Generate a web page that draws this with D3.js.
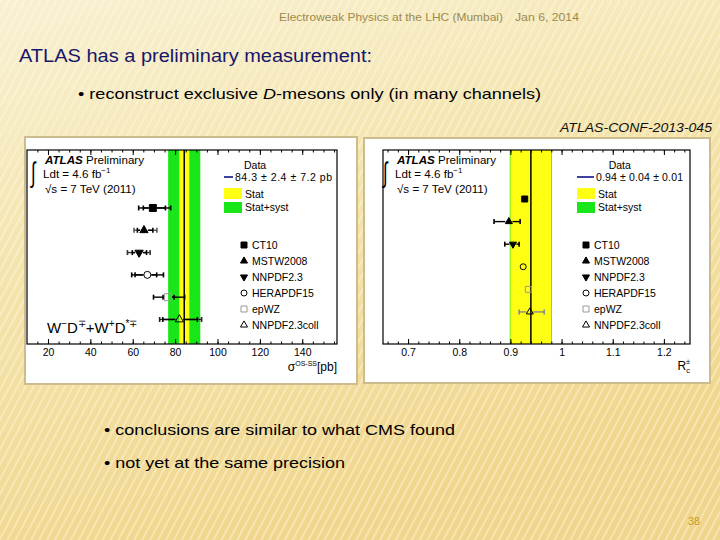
<!DOCTYPE html>
<html><head><meta charset="utf-8">
<script src="https://cdn.jsdelivr.net/npm/d3@7"></script>
<style>
body{margin:0;background:#f4e6b4;}
svg{display:block;font-family:"Liberation Sans",Arial,Helvetica,sans-serif;}
</style>
</head><body>
<svg id="c" width="720" height="540"></svg>
<script>
// ---------------- data ----------------
const pdfSets = ["CT10","MSTW2008","NNPDF2.3","HERAPDF15","epWZ","NNPDF2.3coll"];
const markerTypes = ["squareFilled","triangleFilled","triangleDownFilled","circleOpen","squareOpen","triangleOpen"];
const rowIndex = [6,5,4,3,2,1];

// left panel: sigma(OS-SS) [pb]
const sigmaMeasured = [84.3, 2.4, 7.2];          // value, stat, syst
const sigmaCentral  = [69.5, 65.3, 63.0, 66.9, 76.6, 82.0];
const sigmaInnerLo  = [65.0, 62.2, 59.8, 61.1, 74.3, 74.2];
const sigmaInnerHi  = [75.4, 69.5, 66.5, 71.3, 79.5, 90.5];
const sigmaOuterLo  = [62.8, 60.6, 57.5, 59.5, 69.8, 72.7];
const sigmaOuterHi  = [77.9, 71.4, 68.2, 74.5, 84.5, 92.5];
const sigmaTicks    = [20, 40, 60, 80, 100, 120, 140];
const sigmaMinor    = d3.range(15, 156, 5);

// right panel: Rc+-
const rcMeasured = [0.94, 0.04, 0.01];
const rcCentral  = [0.928, 0.897, 0.905, 0.925, 0.935, 0.938];
const rcErrLo    = [0.928, 0.868, 0.889, 0.925, 0.935, 0.917];
const rcErrHi    = [0.928, 0.919, 0.917, 0.925, 0.935, 0.966];
const rcTicks    = [0.7, 0.8, 0.9, 1.0, 1.1, 1.2];
const rcMinor    = d3.range(0.66, 1.25, 0.02);

const headerText = ["Electroweak Physics at the LHC (Mumbai)", "Jan 6, 2014"];
const titleText  = "ATLAS has a preliminary measurement:";
const bulletTop  = ["reconstruct exclusive ", "D", "-mesons only (in many channels)"];
const confText   = "ATLAS-CONF-2013-045";
const bulletsBottom = ["conclusions are similar to what CMS found", "not yet at the same precision"];
const pageNumber = "38";

// ---------------- drawing ----------------
const svg = d3.select("#c");
const defs = svg.append("defs");
const bg = defs.append("linearGradient").attr("id","bg").attr("x1","0").attr("y1","0").attr("x2","0.35").attr("y2","1");
bg.append("stop").attr("offset","0").attr("stop-color","#f8f0d2");
bg.append("stop").attr("offset","0.45").attr("stop-color","#f4e4ad");
bg.append("stop").attr("offset","1").attr("stop-color","#f0d68c");
const pat = defs.append("pattern").attr("id","stripes").attr("width",7).attr("height",7)
  .attr("patternUnits","userSpaceOnUse").attr("patternTransform","rotate(28)");
pat.append("rect").attr("width",2).attr("height",7).attr("fill","#fffbe8").attr("opacity",0.4);

svg.append("rect").attr("width",720).attr("height",540).attr("fill","url(#bg)");
svg.append("rect").attr("width",720).attr("height",540).attr("fill","url(#stripes)");

function slideText(x, y, str, size, width, opts={}) {
  const t = svg.append("text").attr("x",x).attr("y",y).attr("font-size",size)
    .attr("fill",opts.fill||"#000").attr("text-anchor",opts.anchor||"start");
  if (opts.italic) t.attr("font-style","italic");
  if (Array.isArray(str)) {
    str.forEach((s,i)=>{ const ts=t.append("tspan").text(s); if(opts.italicIdx===i) ts.attr("font-style","italic"); });
  } else t.text(str);
  if (width) t.attr("textLength",width).attr("lengthAdjust","spacingAndGlyphs");
  return t;
}

slideText(279, 21, headerText[0], 11, 224, {fill:"#9c8a4e"});
slideText(515, 21, headerText[1], 11, 64, {fill:"#9c8a4e"});
slideText(19, 62, titleText, 17.5, 353, {fill:"#16166a"});
slideText(78, 99, ["• "].concat(bulletTop), 15, 463, {italicIdx:2});
slideText(712, 132, confText, 12, 152, {anchor:"end", italic:true, fill:"#111"});
slideText(104, 435, "• " + bulletsBottom[0], 15, 351);
slideText(104, 468, "• " + bulletsBottom[1], 15, 241);
slideText(688, 525, pageNumber, 11, 12, {fill:"#c49a2a"});

// ---------- generic panel ----------
function marker(g, type, x, y, s) {
  let sym, rot = 0, filled = type.endsWith("Filled");
  if (type.startsWith("square")) sym = d3.symbolSquare;
  else if (type.startsWith("circle")) sym = d3.symbolCircle;
  else sym = d3.symbolTriangle;
  if (type.startsWith("triangleDown")) rot = 180;
  const area = type.startsWith("square") ? s*s : type.startsWith("circle") ? Math.PI*(s/2)*(s/2) : s*s*0.6;
  g.append("path").attr("d", d3.symbol().type(sym).size(area)())
    .attr("transform",`translate(${x},${y}) rotate(${rot})`)
    .attr("fill", filled ? "#000" : "none")
    .attr("stroke", type==="squareOpen" ? "#999" : "#000").attr("stroke-width",1);
}

function drawPanel(cfg) {
  const g = svg.append("g");
  g.append("rect").attr("x",cfg.box[0]).attr("y",cfg.box[1]).attr("width",cfg.box[2]).attr("height",cfg.box[3])
    .attr("fill","#fff").attr("stroke","#cdbd8c").attr("stroke-width",2);
  const x = d3.scaleLinear().domain(cfg.xDomain).range(cfg.xRange);
  const y = d3.scaleLinear().domain(cfg.yDomain).range([344,150]);
  const [v, st, sy] = cfg.measured;
  const tot = Math.sqrt(st*st + sy*sy);
  g.append("rect").attr("x",x(v-tot)).attr("y",150).attr("width",x(v+tot)-x(v-tot)).attr("height",194).attr("fill","#19e619");
  g.append("rect").attr("x",x(v-st)).attr("y",150).attr("width",x(v+st)-x(v-st)).attr("height",194).attr("fill","#ffff14");
  g.append("line").attr("x1",x(v)).attr("x2",x(v)).attr("y1",150).attr("y2",344).attr("stroke","#000").attr("stroke-width",1.5);

  const fmt = cfg.fmt;
  const bottomMinor = d3.axisBottom(x).tickValues(cfg.minor).tickSizeInner(-2.5).tickSizeOuter(0).tickFormat("");
  const bottomMajor = d3.axisBottom(x).tickValues(cfg.ticks).tickSizeInner(-5).tickSizeOuter(0).tickPadding(5).tickFormat(fmt);
  const topMinor = d3.axisTop(x).tickValues(cfg.minor).tickSizeInner(-2.5).tickSizeOuter(0).tickFormat("");
  const topMajor = d3.axisTop(x).tickValues(cfg.ticks).tickSizeInner(-5).tickSizeOuter(0).tickFormat("");
  [bottomMinor,bottomMajor].forEach(a=>{
    const ag = g.append("g").attr("transform","translate(0,344)").call(a);
    ag.select(".domain").remove();
    ag.selectAll("text").attr("font-size",10.5).attr("fill","#000").attr("font-family","Liberation Sans, Arial, sans-serif");
  });
  [topMinor,topMajor].forEach(a=>{
    const ag = g.append("g").attr("transform","translate(0,150)").call(a);
    ag.select(".domain").remove();
  });
  g.selectAll(".tick line").attr("stroke","#000");
  g.append("rect").attr("x",cfg.xRange[0]).attr("y",150).attr("width",cfg.xRange[1]-cfg.xRange[0]).attr("height",194)
    .attr("fill","none").attr("stroke","#000").attr("stroke-width",1.2);

  const ms = cfg.markerSize;
  pdfSets.forEach((name,i)=>{
    const cy = y(rowIndex[i]), cx = x(cfg.central[i]);
    const r = ms/2 + 0.5;
    cfg.bars.forEach(b=>{
      const lo = x(b.lo[i]), hi = x(b.hi[i]);
      if (hi - lo < 1) return;
      const col = b.color ? b.color[i] : "#000";
      if (cx - r > lo) g.append("line").attr("x1",lo).attr("x2",cx-r).attr("y1",cy).attr("y2",cy).attr("stroke",col).attr("stroke-width",1.4);
      if (hi > cx + r) g.append("line").attr("x1",cx+r).attr("x2",hi).attr("y1",cy).attr("y2",cy).attr("stroke",col).attr("stroke-width",1.4);
      if (b.caps) [lo,hi].forEach(px=> g.append("line").attr("x1",px).attr("x2",px).attr("y1",cy-2.5).attr("y2",cy+2.5).attr("stroke",col).attr("stroke-width",1.6));
    });
    marker(g, markerTypes[i], cx, cy, ms);
  });

  const L = cfg.label;
  g.append("text").attr("x",L[0]).attr("y",L[1]+24).attr("font-size",28).attr("font-family","DejaVu Sans, sans-serif")
    .attr("font-weight",200).text("∫").attr("transform",`translate(${L[0]},0) scale(0.6,1) translate(${-L[0]},0)`);
  const t1 = g.append("text").attr("x",L[0]+14).attr("y",L[1]+6).attr("font-size",11.6);
  t1.append("tspan").attr("font-weight","bold").attr("font-style","italic").text("ATLAS");
  t1.append("tspan").text(" Preliminary");
  const t2 = g.append("text").attr("x",L[0]+12).attr("y",L[1]+20).attr("font-size",11.6);
  t2.append("tspan").text("Ldt = 4.6 fb");
  t2.append("tspan").attr("dy",-5).attr("font-size",8).text("−1");
  g.append("text").attr("x",L[0]+14).attr("y",L[1]+35).attr("font-size",11.6).text("√s = 7 TeV (2011)");

  const G = cfg.legend;
  g.append("text").attr("x",G[1]).attr("y",169).attr("font-size",10.5).text("Data");
  g.append("line").attr("x1",G[0]).attr("x2",G[0]+cfg.lineLen).attr("y1",177).attr("y2",177).attr("stroke","#000080").attr("stroke-width",1.5);
  g.append("text").attr("x",G[0]+cfg.lineLen+2).attr("y",181).attr("font-size",10.5).text(cfg.dataText)
    .attr("textLength",cfg.dataWidth).attr("lengthAdjust","spacing");
  g.append("rect").attr("x",G[0]).attr("y",188).attr("width",18).attr("height",11).attr("fill","#ffff14");
  g.append("text").attr("x",G[0]+21).attr("y",197.5).attr("font-size",10.5).text("Stat");
  g.append("rect").attr("x",G[0]).attr("y",202).attr("width",18).attr("height",11).attr("fill","#19e619");
  g.append("text").attr("x",G[0]+21).attr("y",211).attr("font-size",10.5).text("Stat+syst");
  pdfSets.forEach((name,i)=>{
    const ly = 245 + 16*i;
    marker(g, markerTypes[i], G[2], ly, 6);
    g.append("text").attr("x",G[2]+8).attr("y",ly+4).attr("font-size",10.5).text(name);
  });
  return g;
}

const left = drawPanel({
  box:[25,137,332,247], xDomain:[10.1,156.4], xRange:[27,337], yDomain:[-0.1,8.6],
  measured:sigmaMeasured, ticks:sigmaTicks, minor:sigmaMinor, fmt:d3.format("d"),
  central:sigmaCentral, markerSize:7,
  bars:[{lo:sigmaOuterLo,hi:sigmaOuterHi,caps:true,color:["#000","#555","#333","#000","#000","#222"]},
        {lo:sigmaInnerLo,hi:sigmaInnerHi,caps:true}],
  label:[31,158], legend:[224,244,244], lineLen:9, dataText:"84.3 ± 2.4 ± 7.2 pb", dataWidth:97
});
const wl = left.append("text").attr("x",47).attr("y",333).attr("font-size",15);
wl.append("tspan").text("W");
wl.append("tspan").attr("dy",-6).attr("font-size",10).text("−");
wl.append("tspan").attr("dy",6).text("D");
wl.append("tspan").attr("dy",-6).attr("font-size",10).text("∓");
wl.append("tspan").attr("dy",6).text("+W");
wl.append("tspan").attr("dy",-6).attr("font-size",10).text("+");
wl.append("tspan").attr("dy",6).text("D");
wl.append("tspan").attr("dy",-6).attr("font-size",10).text("*∓");
const xl = left.append("text").attr("x",337).attr("y",371).attr("font-size",12).attr("text-anchor","end");
xl.append("tspan").text("σ");
xl.append("tspan").attr("dy",-5).attr("font-size",7).text("OS-SS");
xl.append("tspan").attr("dy",5).text("[pb]");

const right = drawPanel({
  box:[364,138,346,245], xDomain:[0.651,1.251], xRange:[383,690], yDomain:[-0.42,8.17],
  measured:rcMeasured, ticks:rcTicks, minor:rcMinor, fmt:d3.format("~g"),
  central:rcCentral, markerSize:6,
  bars:[{lo:rcErrLo,hi:rcErrHi,caps:true,color:["#000","#000","#000","#000","#999","#888"]}],
  label:[383,158], legend:[577,608.7,586], lineLen:17, dataText:"0.94 ± 0.04 ± 0.01", dataWidth:87
});
const rl = right.append("text").attr("x",690).attr("y",370).attr("font-size",12).attr("text-anchor","end");
rl.append("tspan").text("R");
rl.append("tspan").attr("dy",3).attr("font-size",7.5).text("c");
rl.append("tspan").attr("dy",-9).attr("dx",-4).attr("font-size",7.5).text("±");
</script>
</body></html>
